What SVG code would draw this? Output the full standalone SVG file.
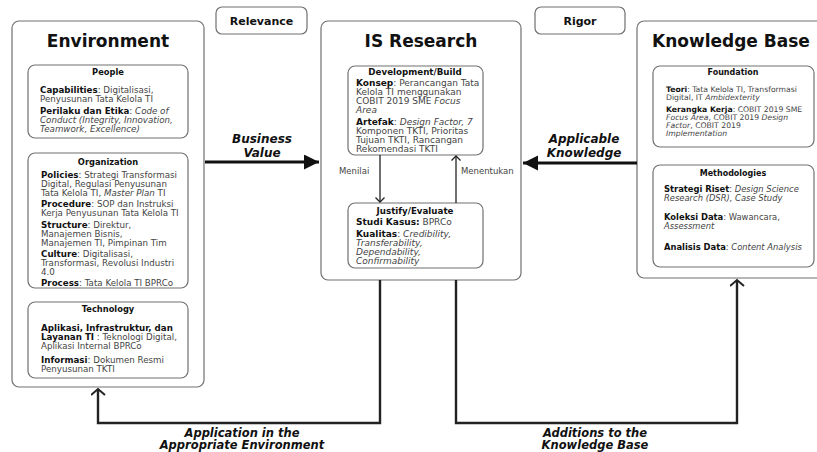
<svg xmlns="http://www.w3.org/2000/svg" width="817" height="452" viewBox="0 0 817 452">
<style>
.box{fill:#fff;stroke:#707070;stroke-width:1.2}
.t{font-family:"DejaVu Sans",sans-serif;font-size:8.7px;fill:#444}
.r{font-size:9px}
.f{font-size:7.7px}
.m{font-size:8.4px}
.b{font-weight:bold;fill:#111}
.i{font-style:italic}
.h{font-family:"DejaVu Sans",sans-serif;font-weight:bold;font-size:8.3px;fill:#111;text-anchor:middle}
.title{font-family:"DejaVu Sans",sans-serif;font-weight:bold;font-size:17px;fill:#111}
.tag{font-family:"DejaVu Sans",sans-serif;font-weight:bold;font-size:11px;fill:#111;text-anchor:middle}
.lab{font-family:"DejaVu Sans",sans-serif;font-weight:bold;font-style:italic;font-size:12px;fill:#111;text-anchor:middle}
.lab2{font-size:11.5px}
.sm{font-family:"DejaVu Sans",sans-serif;font-size:8.5px;fill:#444}
.big{fill:none;stroke:#111;stroke-width:3}
.mid{fill:none;stroke:#222;stroke-width:2.4}
.thin{fill:none;stroke:#222;stroke-width:1.3}
</style>
<defs>
<marker id="tri" markerUnits="userSpaceOnUse" markerWidth="16" markerHeight="16" refX="15" refY="7.5" orient="auto"><path d="M0,0 L15,7.5 L0,15 z" fill="#111"/></marker>
<marker id="chev" markerUnits="userSpaceOnUse" markerWidth="12" markerHeight="16" refX="7" refY="7.5" orient="auto"><path d="M1,0.5 L7,7.5 L1,14.5" fill="none" stroke="#222" stroke-width="2"/></marker>
<marker id="chevs" markerUnits="userSpaceOnUse" markerWidth="10" markerHeight="12" refX="5" refY="5" orient="auto"><path d="M0.5,0.5 L5,5 L0.5,9.5" fill="none" stroke="#222" stroke-width="1.3"/></marker>
</defs>

<g id="relevance"><rect class="box" x="216" y="7" width="91" height="27" rx="6"/><text class="tag" x="261.5" y="25">Relevance</text></g>
<g id="rigor"><rect class="box" x="535" y="7" width="90" height="27" rx="6"/><text class="tag" x="580" y="25">Rigor</text></g>

<g id="environment">
<rect class="box" x="12" y="21" width="192" height="366" rx="7"/>
<text class="title" x="108" y="47" text-anchor="middle">Environment</text>
<g id="people">
<rect class="box" x="28" y="65" width="160" height="73" rx="7"/>
<text class="h" x="108" y="75">People</text>
<text class="t" x="40" y="93"><tspan class="b">Capabilities</tspan>: Digitalisasi,</text>
<text class="t" x="40" y="102">Penyusunan Tata Kelola TI</text>
<text class="t" x="40" y="114"><tspan class="b">Perilaku dan Etika</tspan>: <tspan class="i">Code of</tspan></text>
<text class="t i" x="40" y="123">Conduct (Integrity, Innovation,</text>
<text class="t i" x="40" y="132">Teamwork, Excellence)</text>
</g>
<g id="organization">
<rect class="box" x="28" y="153" width="160" height="135" rx="7"/>
<text class="h" x="108" y="165">Organization</text>
<text class="t" x="41" y="178"><tspan class="b">Policies</tspan>: Strategi Transformasi</text>
<text class="t" x="41" y="187">Digital, Regulasi Penyusunan</text>
<text class="t" x="41" y="196">Tata Kelola TI, <tspan class="i">Master Plan</tspan> TI</text>
<text class="t" x="41" y="207"><tspan class="b">Procedure</tspan>: SOP dan Instruksi</text>
<text class="t" x="41" y="216">Kerja Penyusunan Tata Kelola TI</text>
<text class="t" x="41" y="228"><tspan class="b">Structure</tspan>: Direktur,</text>
<text class="t" x="41" y="237">Manajemen Bisnis,</text>
<text class="t" x="41" y="246">Manajemen TI, Pimpinan Tim</text>
<text class="t" x="41" y="257"><tspan class="b">Culture</tspan>: Digitalisasi,</text>
<text class="t" x="41" y="266">Transformasi, Revolusi Industri</text>
<text class="t" x="41" y="275">4.0</text>
<text class="t" x="41" y="286"><tspan class="b">Process</tspan>: Tata Kelola TI BPRCo</text>
</g>
<g id="technology">
<rect class="box" x="28" y="302" width="160" height="76" rx="7"/>
<text class="h" x="108" y="312">Technology</text>
<text class="t b" x="41" y="331">Aplikasi, Infrastruktur, dan</text>
<text class="t" x="41" y="340"><tspan class="b">Layanan TI</tspan> : Teknologi Digital,</text>
<text class="t" x="41" y="349">Aplikasi Internal BPRCo</text>
<text class="t" x="41" y="363"><tspan class="b">Informasi</tspan>: Dokumen Resmi</text>
<text class="t" x="41" y="372">Penyusunan TKTI</text>
</g>
</g>

<g id="is-research">
<rect class="box" x="321" y="21" width="200" height="259" rx="7"/>
<text class="title" x="421" y="47" text-anchor="middle">IS Research</text>
<g id="development-build">
<rect class="box" x="348" y="66" width="135" height="89" rx="7"/>
<text class="h" x="415" y="75" style="font-size:8.7px">Development/Build</text>
<text class="t r" x="356" y="86"><tspan class="b">Konsep</tspan>: Perancangan Tata</text>
<text class="t r" x="356" y="95">Kelola TI menggunakan</text>
<text class="t r" x="356" y="104">COBIT 2019 SME <tspan class="i">Focus</tspan></text>
<text class="t r i" x="356" y="113">Area</text>
<text class="t r" x="356" y="125"><tspan class="b">Artefak</tspan>: <tspan class="i">Design Factor, 7</tspan></text>
<text class="t r" x="356" y="134">Komponen TKTI, Prioritas</text>
<text class="t r" x="356" y="143">Tujuan TKTI, Rancangan</text>
<text class="t r" x="356" y="152">Rekomendasi TKTI</text>
</g>
<g id="justify-evaluate">
<rect class="box" x="348" y="203" width="135" height="65" rx="7"/>
<text class="h" x="415" y="214" style="font-size:8.7px">Justify/Evaluate</text>
<text class="t r" x="356" y="225"><tspan class="b">Studi Kasus:</tspan> BPRCo</text>
<text class="t r" x="356" y="237"><tspan class="b">Kualitas</tspan>: <tspan class="i">Credibility,</tspan></text>
<text class="t r i" x="356" y="246">Transferability,</text>
<text class="t r i" x="356" y="255">Dependability,</text>
<text class="t r i" x="356" y="264">Confirmability</text>
</g>
</g>

<g id="knowledge-base">
<rect class="box" x="637" y="21" width="200" height="257" rx="7"/>
<text class="title" x="652" y="47">Knowledge Base</text>
<g id="foundation">
<rect class="box" x="653" y="66" width="161" height="81" rx="7"/>
<text class="h" x="733" y="75" style="font-size:8px">Foundation</text>
<text class="t f" x="666" y="92"><tspan class="b">Teori</tspan>: Tata Kelola TI, Transformasi</text>
<text class="t f" x="666" y="100">Digital, IT <tspan class="i">Ambidexterity</tspan></text>
<text class="t f" x="666" y="112"><tspan class="b">Kerangka Kerja</tspan>: COBIT 2019 SME</text>
<text class="t f" x="666" y="120"><tspan class="i">Focus Area</tspan>, COBIT 2019 <tspan class="i">Design</tspan></text>
<text class="t f" x="666" y="128"><tspan class="i">Factor</tspan>, COBIT 2019</text>
<text class="t f i" x="666" y="136">Implementation</text>
</g>
<g id="methodologies">
<rect class="box" x="653" y="165" width="161" height="102" rx="7"/>
<text class="h" x="733" y="176" style="font-size:8px">Methodologies</text>
<text class="t m" x="664" y="192"><tspan class="b">Strategi Riset</tspan>: <tspan class="i">Design Science</tspan></text>
<text class="t m i" x="664" y="201">Research (DSR), Case Study</text>
<text class="t m" x="664" y="220"><tspan class="b">Koleksi Data</tspan>: Wawancara,</text>
<text class="t m i" x="664" y="229">Assessment</text>
<text class="t m" x="664" y="250"><tspan class="b">Analisis Data</tspan>: <tspan class="i">Content Analysis</tspan></text>
</g>
</g>

<g id="connectors">
<line class="big" x1="205" y1="162" x2="319" y2="162" marker-end="url(#tri)"/>
<text class="lab" x="262" y="143">Business</text>
<text class="lab" x="262" y="157">Value</text>
<line class="big" x1="637" y1="163" x2="523" y2="163" marker-end="url(#tri)"/>
<text class="lab" x="584" y="143">Applicable</text>
<text class="lab" x="584" y="157">Knowledge</text>
<line class="thin" x1="380" y1="155" x2="380" y2="202" marker-end="url(#chevs)"/>
<text class="sm" x="339" y="174">Menilai</text>
<line class="thin" x1="456" y1="203" x2="456" y2="156" marker-end="url(#chevs)"/>
<text class="sm" x="461" y="174">Menentukan</text>
<polyline class="mid" points="380,280 380,423 98,423 98,389" marker-end="url(#chev)"/>
<text class="lab lab2" x="242" y="436.5">Application in the</text>
<text class="lab lab2" x="242" y="449">Appropriate Environment</text>
<polyline class="mid" points="456,280 456,423 737,423 737,280" marker-end="url(#chev)"/>
<text class="lab lab2" x="595" y="436.5">Additions to the</text>
<text class="lab lab2" x="595" y="449">Knowledge Base</text>
</g>
</svg>
